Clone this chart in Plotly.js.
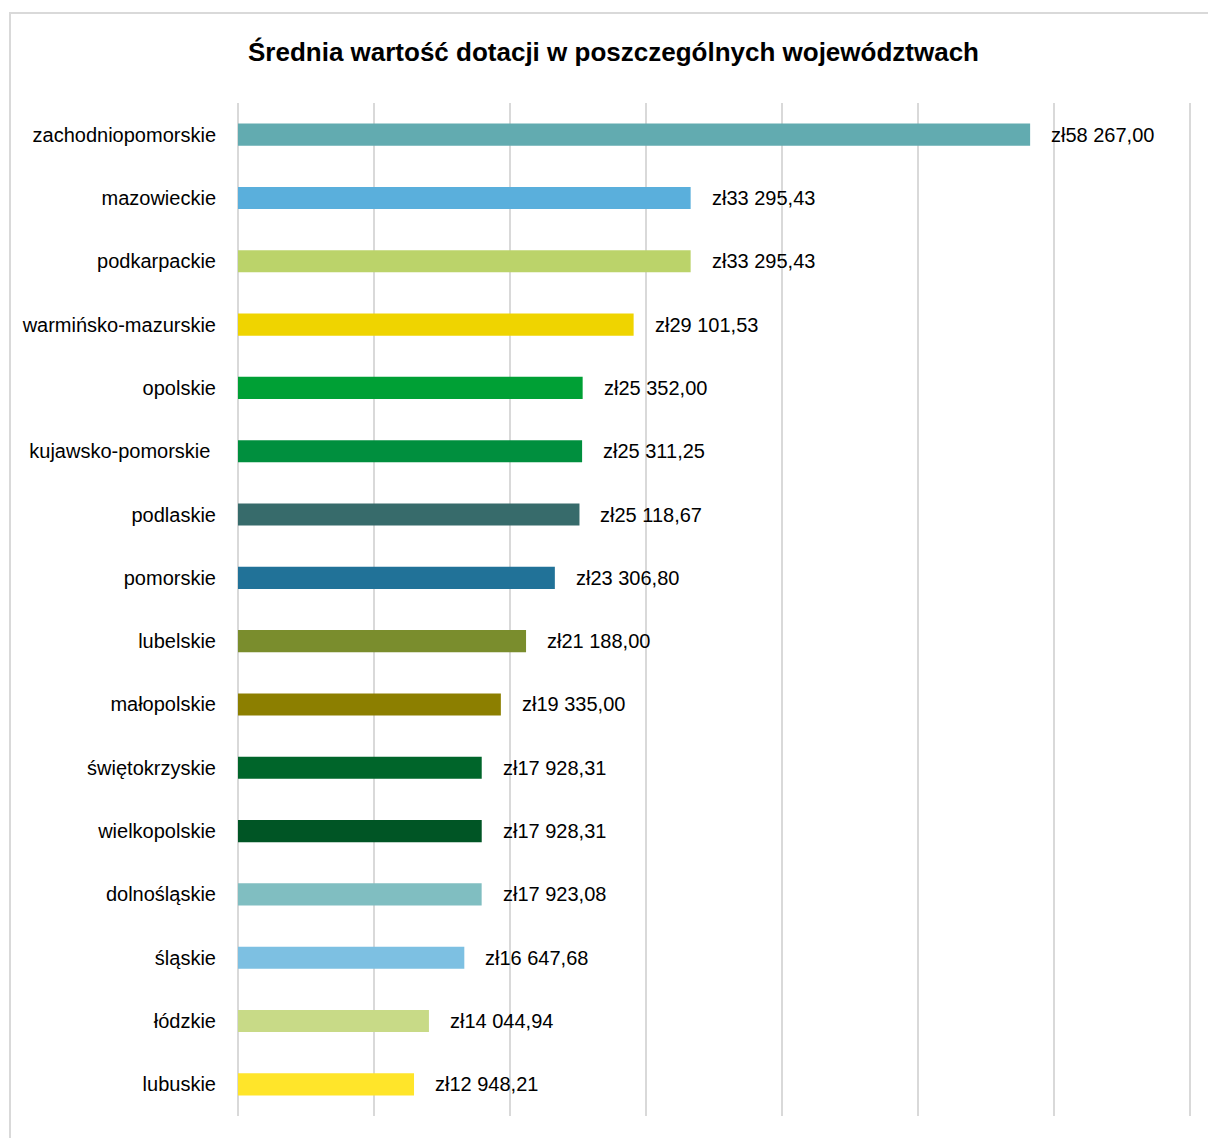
<!DOCTYPE html>
<html>
<head>
<meta charset="utf-8">
<script src="https://cdn.plot.ly/plotly-3.0.1.min.js"></script>
<style>
  html, body { margin: 0; padding: 0; background: #ffffff; }
  #wrap { position: relative; width: 1208px; height: 1138px; overflow: hidden; }
  #frame { position: absolute; left: 9px; top: 12px; width: 1300px; height: 1300px; border: 2px solid #d9d9d9; box-sizing: border-box; }
  #chart { position: absolute; left: 0; top: 0; width: 1208px; height: 1138px; }
</style>
</head>
<body>
<div id="wrap">
  <div id="frame"></div>
  <div id="chart"></div>
</div>
<script>
const categories = [
  "zachodniopomorskie", "mazowieckie", "podkarpackie", "warmińsko-mazurskie",
  "opolskie", "kujawsko-pomorskie\u00a0", "podlaskie", "pomorskie", "lubelskie",
  "małopolskie", "świętokrzyskie", "wielkopolskie", "dolnośląskie", "śląskie",
  "łódzkie", "lubuskie"
];
const values = [
  58267.00, 33295.43, 33295.43, 29101.53, 25352.00, 25311.25, 25118.67, 23306.80,
  21188.00, 19335.00, 17928.31, 17928.31, 17923.08, 16647.68, 14044.94, 12948.21
];
const valueLabels = [
  "zł58 267,00", "zł33 295,43", "zł33 295,43", "zł29 101,53", "zł25 352,00",
  "zł25 311,25", "zł25 118,67", "zł23 306,80", "zł21 188,00", "zł19 335,00",
  "zł17 928,31", "zł17 928,31", "zł17 923,08", "zł16 647,68", "zł14 044,94",
  "zł12 948,21"
];
const barColors = [
  "#62abb0", "#5aafdc", "#bbd36a", "#efd400", "#00a035", "#008f3e", "#376b6b",
  "#217298", "#7a8d2d", "#8c7f00", "#00652a", "#005525", "#80bec1", "#7dc0e2",
  "#c8da87", "#ffe52a"
];

const FONT = '"Liberation Sans Narrow", "Arial Narrow", "Liberation Sans", Arial, sans-serif';

const trace = {
  type: "bar",
  orientation: "h",
  y: categories,
  x: values,
  marker: { color: barColors, line: { width: 0 } },
  hoverinfo: "skip"
};

const annotations = categories.map((c, i) => ({
  x: values[i], y: c, xref: "x", yref: "y",
  text: valueLabels[i], showarrow: false,
  xanchor: "left", yanchor: "middle", xshift: 19,
  font: { family: FONT, size: 20, color: "#000000" }
}));

const layout = {
  width: 1208, height: 1138,
  paper_bgcolor: "rgba(0,0,0,0)",
  plot_bgcolor: "rgba(0,0,0,0)",
  margin: { l: 238, r: 17, t: 103, b: 22, pad: 0 },
  showlegend: false,
  bargap: 0.65,
  title: {
    text: "<b>Średnia wartość dotacji w poszczególnych województwach</b>",
    x: 613.5 / 1208, xref: "container", xanchor: "center",
    y: 1 - 52 / 1138, yref: "container", yanchor: "middle",
    font: { family: FONT, size: 26, color: "#000000" }
  },
  xaxis: {
    range: [0, 70100], dtick: 10000, tick0: 0,
    showgrid: true, gridcolor: "#d9d9d9", gridwidth: 2,
    zeroline: true, zerolinecolor: "#d9d9d9", zerolinewidth: 2,
    showticklabels: false, showline: false, ticks: "",
    fixedrange: true
  },
  yaxis: {
    categoryorder: "array", categoryarray: categories,
    autorange: "reversed",
    showgrid: false, zeroline: false, showline: false,
    ticks: "outside", ticklen: 17, tickcolor: "rgba(0,0,0,0)",
    tickfont: { family: FONT, size: 20, color: "#000000" },
    fixedrange: true
  },
  annotations: annotations
};

Plotly.newPlot("chart", [trace], layout, { displayModeBar: false, staticPlot: true });
</script>
</body>
</html>
